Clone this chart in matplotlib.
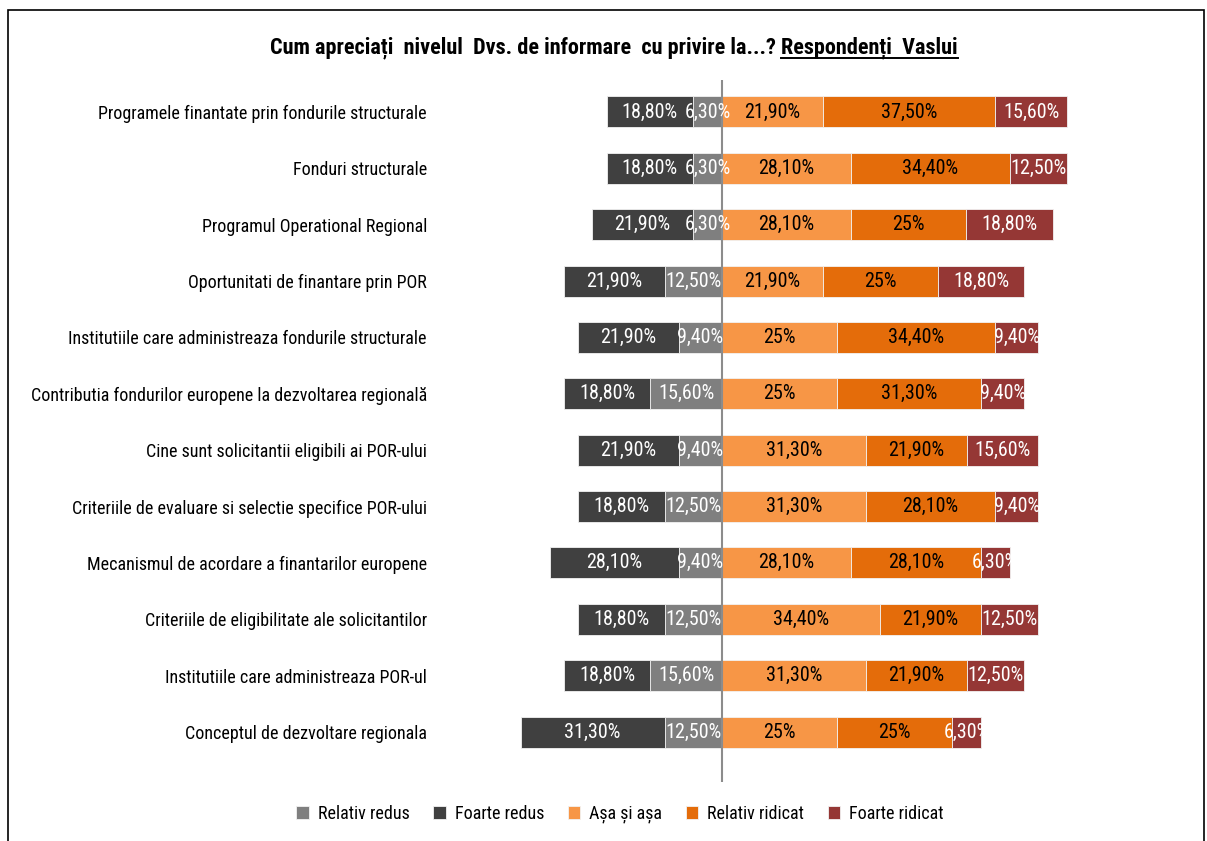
import matplotlib.pyplot as plt
from matplotlib import font_manager
from matplotlib.patches import Rectangle
from matplotlib.lines import Line2D
import numpy as np

# Data (percent of respondents)
categories = [
    "Programele finantate prin fondurile structurale",
    "Fonduri structurale",
    "Programul Operational Regional",
    "Oportunitati de finantare prin POR",
    "Institutiile care administreaza fondurile structurale",
    "Contributia fondurilor europene la dezvoltarea regională",
    "Cine sunt solicitantii eligibili ai POR-ului",
    "Criteriile de evaluare si selectie specifice POR-ului",
    "Mecanismul de acordare a finantarilor europene",
    "Criteriile de eligibilitate ale solicitantilor",
    "Institutiile care administreaza POR-ul",
    "Conceptul de dezvoltare regionala",
]
relativ_redus = [6.3, 6.3, 6.3, 12.5, 9.4, 15.6, 9.4, 12.5, 9.4, 12.5, 15.6, 12.5]
foarte_redus = [18.8, 18.8, 21.9, 21.9, 21.9, 18.8, 21.9, 18.8, 28.1, 18.8, 18.8, 31.3]
asa_si_asa = [21.9, 28.1, 28.1, 21.9, 25, 25, 31.3, 31.3, 28.1, 34.4, 31.3, 25]
relativ_ridicat = [37.5, 34.4, 25, 25, 34.4, 31.3, 21.9, 28.1, 28.1, 21.9, 21.9, 25]
foarte_ridicat = [15.6, 12.5, 18.8, 18.8, 9.4, 9.4, 15.6, 9.4, 6.3, 12.5, 12.5, 6.3]

legend_labels = ["Relativ redus", "Foarte redus", "Așa și așa", "Relativ ridicat", "Foarte ridicat"]
colors = ["#7f7f7f", "#404040", "#f79646", "#e46c0a", "#953735"]
text_colors = ["white", "white", "black", "black", "white"]

# pick a narrow font if one is around
names = {f.name for f in font_manager.fontManager.ttflist}
font = "DejaVu Sans"
for cand in ["Roboto Condensed", "Liberation Sans Narrow", "Open Sans Condensed"]:
    if cand in names:
        font = cand
        break
plt.rcParams['font.family'] = [font, 'DejaVu Sans']


def fmt(v):
    if float(v).is_integer():
        return f"{int(v)}%"
    return f"{v:.2f}".replace(".", ",") + "%"


W, H = 1207, 841
fig = plt.figure(figsize=(W / 100, H / 100), dpi=100)

# axes placed so that 0 sits at x=722px, 4.6px per percent
x0, x1 = -60, 100
px_per = 4.6
left_px = 722 + x0 * px_per
ax = fig.add_axes([left_px / W, 1 - 782 / H, (x1 - x0) * px_per / W, (782 - 80) / H])
ax.set_xlim(x0, x1)
ax.set_ylim(11.887, -0.567)

y = np.arange(len(categories))
rr = np.array(relativ_redus)
fr = np.array(foarte_redus)
aa = np.array(asa_si_asa)
ri = np.array(relativ_ridicat)
fri = np.array(foarte_ridicat)

segments = [
    (rr, -rr),
    (fr, -rr - fr),
    (aa, np.zeros_like(aa)),
    (ri, aa),
    (fri, aa + ri),
]

bh = 0.55
for (vals, lefts), c, tc, lab in zip(segments, colors, text_colors, legend_labels):
    ax.barh(y, vals, left=lefts, height=bh, color=c, edgecolor="#f2f2f2",
            linewidth=0.6, label=lab)
    for yi, v, l in zip(y, vals, lefts):
        ax.text(l + v / 2, yi, fmt(v), ha="center", va="center", color=tc, fontsize=14.5)

ax.axvline(0, color="#8c8c8c", linewidth=1.5)

ax.set_yticks(y)
ax.set_yticklabels(categories, fontsize=13)
ax.tick_params(axis="y", length=0, pad=(722 + x0 * px_per - 427) * 72 / 100)
ax.set_xticks([])
for s in ax.spines.values():
    s.set_visible(False)

# title with underlined second part
t1 = fig.text(0.5, 1 - 48 / H, "Cum apreciați  nivelul  Dvs. de informare  cu privire la...? ",
              ha="right", va="center", fontsize=16, fontweight="bold")
t2 = fig.text(0.5, 1 - 48 / H, "Respondenți  Vaslui", ha="left", va="center",
              fontsize=16, fontweight="bold")
fig.canvas.draw()
r = fig.canvas.get_renderer()
b1 = t1.get_window_extent(r)
b2 = t2.get_window_extent(r)
shift = (614 - (b1.x0 + b2.x1) / 2) / W
t1.set_x(0.5 + shift)
t2.set_x(0.5 + shift)
fig.canvas.draw()
b2 = t2.get_window_extent(r)
uy = (b2.y0 + 1) / H
fig.add_artist(Line2D([b2.x0 / W, b2.x1 / W], [uy, uy], color="black", linewidth=1.4))

# legend
fig.legend(loc="center", bbox_to_anchor=(620 / W, 1 - 814 / H), ncol=5, frameon=False,
           fontsize=13, handlelength=0.7, handleheight=0.7, columnspacing=1.3,
           handletextpad=0.5)

# chart border
fig.add_artist(Rectangle((8 / W, -0.05), (1204 - 8) / W, 1.05 - 10 / H, fill=False,
                         edgecolor="black", linewidth=1.2, transform=fig.transFigure))

fig.savefig("out.png", dpi=100)
